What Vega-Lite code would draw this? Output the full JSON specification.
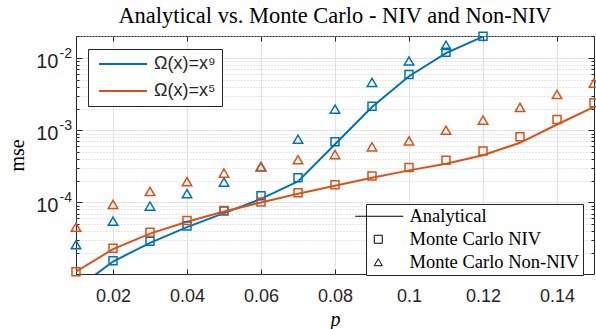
{
  "$schema": "https://vega.github.io/schema/vega-lite/v6.json",
  "width": 518,
  "height": 238,
  "autosize": {"type": "none"},
  "padding": {"left": 76, "top": 36, "right": 2, "bottom": 55},
  "background": "white",
  "config": {
    "view": {"stroke": "#262626", "strokeWidth": 1},
    "axis": {"domain": false}
  },
  "title": {
    "text": "Analytical vs. Monte Carlo - NIV and Non-NIV",
    "font": "Liberation Serif",
    "fontSize": 22.5,
    "fontWeight": "normal",
    "color": "black",
    "anchor": "middle",
    "baseline": "alphabetic",
    "offset": -16
  },
  "data": {
    "values": [
      {"p": 0.01, "v": 6.3e-6, "series": "Ω(x)=x⁹", "type": "Analytical"},
      {"p": 0.02, "v": 1.52e-5, "series": "Ω(x)=x⁹", "type": "Analytical"},
      {"p": 0.03, "v": 2.75e-5, "series": "Ω(x)=x⁹", "type": "Analytical"},
      {"p": 0.04, "v": 4.55e-5, "series": "Ω(x)=x⁹", "type": "Analytical"},
      {"p": 0.05, "v": 7.1e-5, "series": "Ω(x)=x⁹", "type": "Analytical"},
      {"p": 0.06, "v": 1.12e-4, "series": "Ω(x)=x⁹", "type": "Analytical"},
      {"p": 0.07, "v": 1.95e-4, "series": "Ω(x)=x⁹", "type": "Analytical"},
      {"p": 0.08, "v": 6.4e-4, "series": "Ω(x)=x⁹", "type": "Analytical"},
      {"p": 0.09, "v": 2.1e-3, "series": "Ω(x)=x⁹", "type": "Analytical"},
      {"p": 0.10, "v": 5.6e-3, "series": "Ω(x)=x⁹", "type": "Analytical"},
      {"p": 0.11, "v": 1.17e-2, "series": "Ω(x)=x⁹", "type": "Analytical"},
      {"p": 0.12, "v": 1.98e-2, "series": "Ω(x)=x⁹", "type": "Analytical"},
      {"p": 0.01, "v": 1.1e-5, "series": "Ω(x)=x⁵", "type": "Analytical"},
      {"p": 0.02, "v": 2.25e-5, "series": "Ω(x)=x⁵", "type": "Analytical"},
      {"p": 0.03, "v": 3.7e-5, "series": "Ω(x)=x⁵", "type": "Analytical"},
      {"p": 0.04, "v": 5.4e-5, "series": "Ω(x)=x⁵", "type": "Analytical"},
      {"p": 0.05, "v": 7.5e-5, "series": "Ω(x)=x⁵", "type": "Analytical"},
      {"p": 0.06, "v": 1.0e-4, "series": "Ω(x)=x⁵", "type": "Analytical"},
      {"p": 0.07, "v": 1.32e-4, "series": "Ω(x)=x⁵", "type": "Analytical"},
      {"p": 0.08, "v": 1.7e-4, "series": "Ω(x)=x⁵", "type": "Analytical"},
      {"p": 0.09, "v": 2.2e-4, "series": "Ω(x)=x⁵", "type": "Analytical"},
      {"p": 0.10, "v": 2.78e-4, "series": "Ω(x)=x⁵", "type": "Analytical"},
      {"p": 0.11, "v": 3.44e-4, "series": "Ω(x)=x⁵", "type": "Analytical"},
      {"p": 0.12, "v": 4.5e-4, "series": "Ω(x)=x⁵", "type": "Analytical"},
      {"p": 0.13, "v": 6.7e-4, "series": "Ω(x)=x⁵", "type": "Analytical"},
      {"p": 0.14, "v": 1.2e-3, "series": "Ω(x)=x⁵", "type": "Analytical"},
      {"p": 0.15, "v": 2.1e-3, "series": "Ω(x)=x⁵", "type": "Analytical"},
      {"p": 0.02, "v": 1.56e-5, "series": "Ω(x)=x⁹", "type": "Monte Carlo NIV"},
      {"p": 0.03, "v": 2.9e-5, "series": "Ω(x)=x⁹", "type": "Monte Carlo NIV"},
      {"p": 0.04, "v": 4.7e-5, "series": "Ω(x)=x⁹", "type": "Monte Carlo NIV"},
      {"p": 0.05, "v": 7.6e-5, "series": "Ω(x)=x⁹", "type": "Monte Carlo NIV"},
      {"p": 0.06, "v": 1.24e-4, "series": "Ω(x)=x⁹", "type": "Monte Carlo NIV"},
      {"p": 0.07, "v": 2.2e-4, "series": "Ω(x)=x⁹", "type": "Monte Carlo NIV"},
      {"p": 0.08, "v": 6.9e-4, "series": "Ω(x)=x⁹", "type": "Monte Carlo NIV"},
      {"p": 0.09, "v": 2.15e-3, "series": "Ω(x)=x⁹", "type": "Monte Carlo NIV"},
      {"p": 0.10, "v": 5.9e-3, "series": "Ω(x)=x⁹", "type": "Monte Carlo NIV"},
      {"p": 0.11, "v": 1.2e-2, "series": "Ω(x)=x⁹", "type": "Monte Carlo NIV"},
      {"p": 0.12, "v": 2.0e-2, "series": "Ω(x)=x⁹", "type": "Monte Carlo NIV"},
      {"p": 0.01, "v": 2.6e-5, "series": "Ω(x)=x⁹", "type": "Monte Carlo Non-NIV"},
      {"p": 0.02, "v": 5.5e-5, "series": "Ω(x)=x⁹", "type": "Monte Carlo Non-NIV"},
      {"p": 0.03, "v": 8.9e-5, "series": "Ω(x)=x⁹", "type": "Monte Carlo Non-NIV"},
      {"p": 0.04, "v": 1.32e-4, "series": "Ω(x)=x⁹", "type": "Monte Carlo Non-NIV"},
      {"p": 0.05, "v": 1.91e-4, "series": "Ω(x)=x⁹", "type": "Monte Carlo Non-NIV"},
      {"p": 0.06, "v": 3.1e-4, "series": "Ω(x)=x⁹", "type": "Monte Carlo Non-NIV"},
      {"p": 0.07, "v": 7.5e-4, "series": "Ω(x)=x⁹", "type": "Monte Carlo Non-NIV"},
      {"p": 0.08, "v": 1.96e-3, "series": "Ω(x)=x⁹", "type": "Monte Carlo Non-NIV"},
      {"p": 0.09, "v": 4.6e-3, "series": "Ω(x)=x⁹", "type": "Monte Carlo Non-NIV"},
      {"p": 0.10, "v": 9.1e-3, "series": "Ω(x)=x⁹", "type": "Monte Carlo Non-NIV"},
      {"p": 0.11, "v": 1.5e-2, "series": "Ω(x)=x⁹", "type": "Monte Carlo Non-NIV"},
      {"p": 0.01, "v": 1.1e-5, "series": "Ω(x)=x⁵", "type": "Monte Carlo NIV"},
      {"p": 0.02, "v": 2.32e-5, "series": "Ω(x)=x⁵", "type": "Monte Carlo NIV"},
      {"p": 0.03, "v": 3.87e-5, "series": "Ω(x)=x⁵", "type": "Monte Carlo NIV"},
      {"p": 0.04, "v": 5.6e-5, "series": "Ω(x)=x⁵", "type": "Monte Carlo NIV"},
      {"p": 0.05, "v": 7.7e-5, "series": "Ω(x)=x⁵", "type": "Monte Carlo NIV"},
      {"p": 0.06, "v": 1.01e-4, "series": "Ω(x)=x⁵", "type": "Monte Carlo NIV"},
      {"p": 0.07, "v": 1.36e-4, "series": "Ω(x)=x⁵", "type": "Monte Carlo NIV"},
      {"p": 0.08, "v": 1.76e-4, "series": "Ω(x)=x⁵", "type": "Monte Carlo NIV"},
      {"p": 0.09, "v": 2.32e-4, "series": "Ω(x)=x⁵", "type": "Monte Carlo NIV"},
      {"p": 0.10, "v": 3.05e-4, "series": "Ω(x)=x⁵", "type": "Monte Carlo NIV"},
      {"p": 0.11, "v": 3.83e-4, "series": "Ω(x)=x⁵", "type": "Monte Carlo NIV"},
      {"p": 0.12, "v": 5.16e-4, "series": "Ω(x)=x⁵", "type": "Monte Carlo NIV"},
      {"p": 0.13, "v": 8.1e-4, "series": "Ω(x)=x⁵", "type": "Monte Carlo NIV"},
      {"p": 0.14, "v": 1.41e-3, "series": "Ω(x)=x⁵", "type": "Monte Carlo NIV"},
      {"p": 0.15, "v": 2.4e-3, "series": "Ω(x)=x⁵", "type": "Monte Carlo NIV"},
      {"p": 0.01, "v": 4.54e-5, "series": "Ω(x)=x⁵", "type": "Monte Carlo Non-NIV"},
      {"p": 0.02, "v": 9.4e-5, "series": "Ω(x)=x⁵", "type": "Monte Carlo Non-NIV"},
      {"p": 0.03, "v": 1.42e-4, "series": "Ω(x)=x⁵", "type": "Monte Carlo Non-NIV"},
      {"p": 0.04, "v": 1.94e-4, "series": "Ω(x)=x⁵", "type": "Monte Carlo Non-NIV"},
      {"p": 0.05, "v": 2.55e-4, "series": "Ω(x)=x⁵", "type": "Monte Carlo Non-NIV"},
      {"p": 0.06, "v": 3.16e-4, "series": "Ω(x)=x⁵", "type": "Monte Carlo Non-NIV"},
      {"p": 0.07, "v": 3.9e-4, "series": "Ω(x)=x⁵", "type": "Monte Carlo Non-NIV"},
      {"p": 0.08, "v": 4.6e-4, "series": "Ω(x)=x⁵", "type": "Monte Carlo Non-NIV"},
      {"p": 0.09, "v": 5.9e-4, "series": "Ω(x)=x⁵", "type": "Monte Carlo Non-NIV"},
      {"p": 0.10, "v": 7.1e-4, "series": "Ω(x)=x⁵", "type": "Monte Carlo Non-NIV"},
      {"p": 0.11, "v": 1.0e-3, "series": "Ω(x)=x⁵", "type": "Monte Carlo Non-NIV"},
      {"p": 0.12, "v": 1.38e-3, "series": "Ω(x)=x⁵", "type": "Monte Carlo Non-NIV"},
      {"p": 0.13, "v": 2.07e-3, "series": "Ω(x)=x⁵", "type": "Monte Carlo Non-NIV"},
      {"p": 0.14, "v": 3.13e-3, "series": "Ω(x)=x⁵", "type": "Monte Carlo Non-NIV"},
      {"p": 0.15, "v": 4.5e-3, "series": "Ω(x)=x⁵", "type": "Monte Carlo Non-NIV"}
    ]
  },
  "layer": [
    {
      "transform": [{"filter": "datum.type === 'Analytical'"}],
      "mark": {"type": "line", "clip": true, "strokeWidth": 2},
      "encoding": {
        "x": {
          "field": "p", "type": "quantitative",
          "scale": {"domain": [0.01, 0.15], "nice": false, "zero": false},
          "axis": {
            "orient": "bottom",
            "values": [0.02, 0.04, 0.06, 0.08, 0.1, 0.12, 0.14],
            "format": "~g",
            "labelFont": "Liberation Sans", "labelFontSize": 18, "labelColor": "#262626",
            "labelPadding": 18,
            "ticks": true, "tickSize": -5, "tickColor": "#262626", "tickWidth": 1,
            "grid": true, "gridColor": "#e2e2e2", "gridWidth": 1,
            "title": "p", "titleFont": "Liberation Serif", "titleFontStyle": "italic",
            "titleFontWeight": "normal", "titleFontSize": 20, "titleColor": "black",
            "titlePadding": 4
          }
        },
        "y": {
          "field": "v", "type": "quantitative",
          "scale": {"type": "log", "domain": [1.02e-5, 0.0202], "nice": false},
          "axis": {
            "orient": "left",
            "values": [0.00002, 0.00003, 0.00004, 0.00005, 0.00006, 0.00007, 0.00008, 0.00009, 0.0001, 0.0002, 0.0003, 0.0004, 0.0005, 0.0006, 0.0007, 0.0008, 0.0009, 0.001, 0.002, 0.003, 0.004, 0.005, 0.006, 0.007, 0.008, 0.009, 0.01, 0.02],
            "labelExpr": "(datum.value == 0.0001 || datum.value == 0.001 || datum.value == 0.01) ? '10' : ''",
            "labelFont": "Liberation Sans", "labelFontSize": 20, "labelColor": "#262626",
            "labelPadding": 24, "labelBaseline": "alphabetic", "labelOffset": 9,
            "ticks": true,
            "tickSize": {"condition": {"test": "datum.value == 0.0001 || datum.value == 0.001 || datum.value == 0.01", "value": -6}, "value": -3},
            "tickColor": "#262626", "tickWidth": 1,
            "grid": true,
            "gridColor": {"condition": {"test": "datum.value == 0.0001 || datum.value == 0.001 || datum.value == 0.01", "value": "#e2e2e2"}, "value": "#cfcfcf"},
            "gridDash": {"condition": {"test": "datum.value == 0.0001 || datum.value == 0.001 || datum.value == 0.01", "value": []}, "value": [1, 2]},
            "title": "mse", "titleFont": "Liberation Serif", "titleFontWeight": "normal",
            "titleFontSize": 20, "titleColor": "black", "titlePadding": 8
          }
        },
        "color": {
          "field": "series", "type": "nominal",
          "scale": {"domain": ["Ω(x)=x⁹", "Ω(x)=x⁵"], "range": ["#0072BD", "#D95319"]},
          "legend": {
            "orient": "none", "legendX": 12, "legendY": 13, "title": null,
            "symbolType": "M-1,0H11", "symbolSize": 64, "symbolStrokeWidth": 2,
            "labelFont": "Liberation Sans", "labelFontSize": 18, "labelColor": "#262626",
            "labelOffset": 42, "rowPadding": 9, "padding": 6, "labelLimit": 300,
            "strokeColor": "#262626", "fillColor": "white", "cornerRadius": 0
          }
        }
      }
    },
    {
      "transform": [{"filter": "datum.type === 'Monte Carlo NIV'"}],
      "mark": {"type": "point", "filled": false, "strokeWidth": 1.5, "opacity": 1, "size": 64},
      "encoding": {
        "x": {
          "field": "p", "type": "quantitative",
          "axis": {
            "orient": "top",
            "values": [0.02, 0.04, 0.06, 0.08, 0.1, 0.12, 0.14],
            "labels": false, "grid": false,
            "ticks": true, "tickSize": -5, "tickColor": "#262626", "tickWidth": 1,
            "title": null
          }
        },
        "y": {
          "field": "v", "type": "quantitative",
          "axis": {
            "orient": "right",
            "values": [0.00002, 0.00003, 0.00004, 0.00005, 0.00006, 0.00007, 0.00008, 0.00009, 0.0001, 0.0002, 0.0003, 0.0004, 0.0005, 0.0006, 0.0007, 0.0008, 0.0009, 0.001, 0.002, 0.003, 0.004, 0.005, 0.006, 0.007, 0.008, 0.009, 0.01, 0.02],
            "labels": false, "grid": false,
            "ticks": true,
            "tickSize": {"condition": {"test": "datum.value == 0.0001 || datum.value == 0.001 || datum.value == 0.01", "value": -6}, "value": -3},
            "tickColor": "#262626", "tickWidth": 1,
            "title": null
          }
        },
        "color": {
          "field": "series", "type": "nominal",
          "scale": {"domain": ["Ω(x)=x⁹", "Ω(x)=x⁵"], "range": ["#0072BD", "#D95319"]},
          "legend": {
            "orient": "none", "legendX": 12, "legendY": 13, "title": null,
            "symbolType": "M-1,0H11", "symbolSize": 64, "symbolStrokeWidth": 2,
            "labelFont": "Liberation Sans", "labelFontSize": 18, "labelColor": "#262626",
            "labelOffset": 42, "rowPadding": 9, "padding": 6, "labelLimit": 300,
            "strokeColor": "#262626", "fillColor": "white", "cornerRadius": 0
          }
        },
        "shape": {
          "field": "type", "type": "nominal",
          "scale": {"domain": ["Analytical", "Monte Carlo NIV", "Monte Carlo Non-NIV"], "range": ["M-5.75,0H6.25", "square", "triangle-up"]},
          "legend": {
            "orient": "none", "legendX": 290, "legendY": 168, "title": null,
            "symbolSize": 64, "symbolStrokeWidth": 1, "symbolStrokeColor": "black", "symbolFillColor": "transparent",
            "labelFont": "Liberation Serif", "labelFontSize": 18.5, "labelColor": "black",
            "labelExpr": "datum.label + '  '",
            "labelOffset": 22, "rowPadding": 4, "padding": 3, "labelLimit": 300,
            "strokeColor": "#262626", "fillColor": "white", "cornerRadius": 0,
            "encode": {"symbols": {"update": {"stroke": {"value": "black"}, "fill": {"value": "transparent"}, "strokeWidth": {"value": 1}}}}
          }
        }
      }
    },
    {
      "transform": [{"filter": "datum.type === 'Monte Carlo Non-NIV'"}],
      "mark": {"type": "point", "filled": false, "strokeWidth": 1.5, "opacity": 1, "size": 90},
      "encoding": {
        "x": {"field": "p", "type": "quantitative", "axis": null},
        "y": {
          "field": "v", "type": "quantitative",
          "axis": {
            "orient": "left",
            "values": [0.0001, 0.001, 0.01],
            "labelExpr": "datum.value == 0.0001 ? '-4' : datum.value == 0.001 ? '-3' : '-2'",
            "labelFont": "Liberation Sans", "labelFontSize": 14, "labelColor": "#262626",
            "labelPadding": 4.5, "labelBaseline": "alphabetic", "labelOffset": -1,
            "ticks": false, "grid": false, "title": null
          }
        },
        "color": {
          "field": "series", "type": "nominal",
          "scale": {"domain": ["Ω(x)=x⁹", "Ω(x)=x⁵"], "range": ["#0072BD", "#D95319"]},
          "legend": {
            "orient": "none", "legendX": 12, "legendY": 13, "title": null,
            "symbolType": "M-1,0H11", "symbolSize": 64, "symbolStrokeWidth": 2,
            "labelFont": "Liberation Sans", "labelFontSize": 18, "labelColor": "#262626",
            "labelOffset": 42, "rowPadding": 9, "padding": 6, "labelLimit": 300,
            "strokeColor": "#262626", "fillColor": "white", "cornerRadius": 0
          }
        },
        "shape": {
          "field": "type", "type": "nominal",
          "scale": {"domain": ["Analytical", "Monte Carlo NIV", "Monte Carlo Non-NIV"], "range": ["M-5.75,0H6.25", "square", "triangle-up"]},
          "legend": {
            "orient": "none", "legendX": 290, "legendY": 168, "title": null,
            "symbolSize": 64, "symbolStrokeWidth": 1, "symbolStrokeColor": "black", "symbolFillColor": "transparent",
            "labelFont": "Liberation Serif", "labelFontSize": 18.5, "labelColor": "black",
            "labelExpr": "datum.label + '  '",
            "labelOffset": 22, "rowPadding": 4, "padding": 3, "labelLimit": 300,
            "strokeColor": "#262626", "fillColor": "white", "cornerRadius": 0,
            "encode": {"symbols": {"update": {"stroke": {"value": "black"}, "fill": {"value": "transparent"}, "strokeWidth": {"value": 1}}}}
          }
        }
      }
    }
  ],
  "resolve": {"axis": {"x": "independent", "y": "independent"}}
}
